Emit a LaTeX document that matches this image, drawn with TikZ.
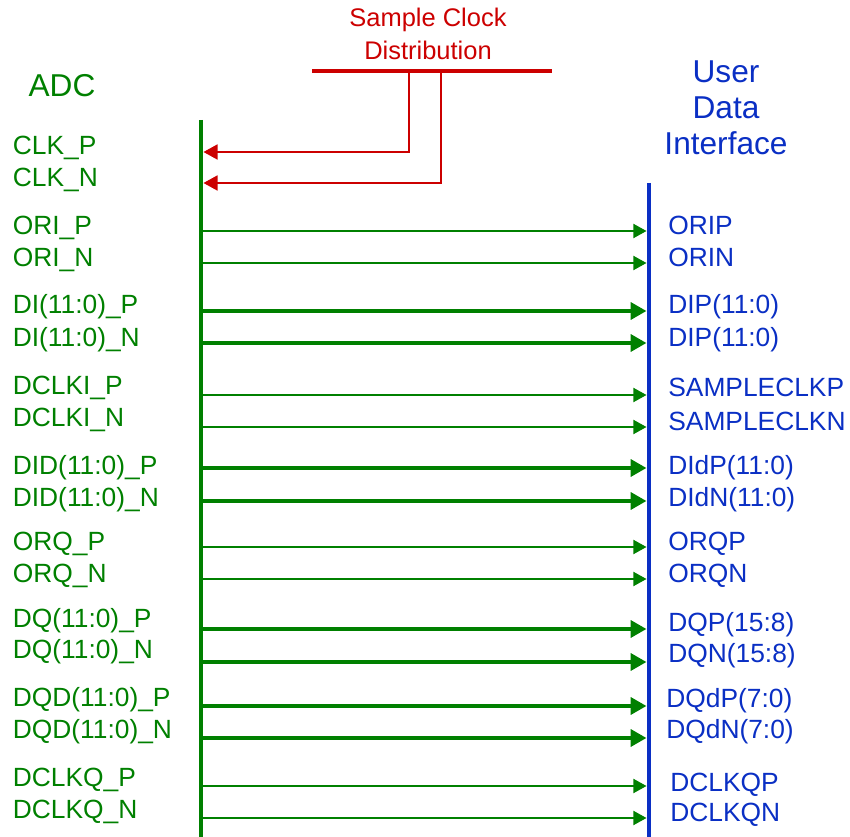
\documentclass[tikz,border=0pt]{standalone}
\usepackage{fontspec}
\setmainfont{Liberation Sans}
\usetikzlibrary{arrows.meta,positioning}
\definecolor{adcgreen}{HTML}{008000}
\definecolor{udiblue}{HTML}{0A2FC4}
\definecolor{clkred}{HTML}{CC0000}

\begin{document}
\begin{tikzpicture}[x=0.02cm, y=-0.02cm,
    title/.style={font=\fontsize{18}{21.6}\selectfont, align=center},
    sig/.style={font=\fontsize{15}{18}\selectfont, anchor=base west, inner sep=0pt},
    adcsig/.style={sig, adcgreen},
    udisig/.style={sig, udiblue},
    bus/.style={line width=2.8pt},
    thinlink/.style={adcgreen, line width=1.1pt, -{Triangle[length=7.5pt, width=8pt]}, shorten >=1.4pt},
    thicklink/.style={adcgreen, line width=2.8pt, -{Triangle[length=9pt, width=9.5pt]}, shorten >=1.4pt},
    clklink/.style={clkred, line width=1.1pt, -{Triangle[length=8pt, width=8.5pt]}, shorten >=1.4pt}
]
    \useasboundingbox (0,0) rectangle (850,837);

    % Titles
    \node[title, adcgreen] (adc) at (62,86) {ADC};
    \node[title, udiblue] (udi) at (726,108) {User\\[-1pt]Data\\[-1pt]Interface};
    \node[title, clkred, font=\fontsize{14.5}{18.5}\selectfont] (scd) at (428,34) {Sample Clock\\Distribution};

    % Buses
    \coordinate (adctop) at (201,120);
    \coordinate (adcbot) at (201,837);
    \coordinate (uditop) at (649,183);
    \coordinate (udibot) at (649,837);
    \coordinate (clkl) at (312,71);
    \coordinate (clkr) at (552,71);
    \draw[bus, adcgreen] (adctop) -- (adcbot);
    \draw[bus, udiblue] (uditop) -- (udibot);
    \draw[clkred, line width=2.3pt] (clkl) -- (clkr);

    % Sample clock feeds
    \coordinate (clkp) at (409,71);
    \coordinate (clkn) at (441,71);
    \coordinate (ckP) at (201,152);
    \coordinate (ckN) at (201,183);
    \draw[clklink] (clkp) |- (ckP);
    \draw[clklink] (clkn) |- (ckN);

    % ADC pins
    \node[adcsig] (clkP) at (12.5,155) {CLK\_P};
    \node[adcsig] (clkN) at (12.5,187) {CLK\_N};
    \node[adcsig] (oriP) at (12.5,235) {ORI\_P};
    \node[adcsig] (oriN) at (12.5,267) {ORI\_N};
    \node[adcsig] (diP) at (12.5,314) {DI(11:0)\_P};
    \node[adcsig] (diN) at (12.5,347) {DI(11:0)\_N};
    \node[adcsig] (dclkiP) at (12.5,395) {DCLKI\_P};
    \node[adcsig] (dclkiN) at (12.5,427) {DCLKI\_N};
    \node[adcsig] (didP) at (12.5,475) {DID(11:0)\_P};
    \node[adcsig] (didN) at (12.5,507) {DID(11:0)\_N};
    \node[adcsig] (orqP) at (12.5,551) {ORQ\_P};
    \node[adcsig] (orqN) at (12.5,583) {ORQ\_N};
    \node[adcsig] (dqP) at (12.5,628) {DQ(11:0)\_P};
    \node[adcsig] (dqN) at (12.5,659) {DQ(11:0)\_N};
    \node[adcsig] (dqdP) at (12.5,707) {DQD(11:0)\_P};
    \node[adcsig] (dqdN) at (12.5,739) {DQD(11:0)\_N};
    \node[adcsig] (dclkqP) at (12.5,787) {DCLKQ\_P};
    \node[adcsig] (dclkqN) at (12.5,819) {DCLKQ\_N};

    % User data interface pins
    \node[udisig] (orip) at (668,235) {ORIP};
    \node[udisig] (orin) at (668,267) {ORIN};
    \node[udisig] (dip) at (668,314) {DIP(11:0)};
    \node[udisig] (din) at (668,347) {DIP(11:0)};
    \node[udisig] (sclkp) at (668,397) {SAMPLECLKP};
    \node[udisig] (sclkn) at (668,431) {SAMPLECLKN};
    \node[udisig] (didp) at (668,475) {DIdP(11:0)};
    \node[udisig] (didn) at (668,507) {DIdN(11:0)};
    \node[udisig] (orqp) at (668,551) {ORQP};
    \node[udisig] (orqn) at (668,583) {ORQN};
    \node[udisig] (dqp) at (668,632) {DQP(15:8)};
    \node[udisig] (dqn) at (668,663) {DQN(15:8)};
    \node[udisig] (dqdp) at (666,708) {DQdP(7:0)};
    \node[udisig] (dqdn) at (666,739) {DQdN(7:0)};
    \node[udisig] (dclkqp) at (670,792) {DCLKQP};
    \node[udisig] (dclkqn) at (670,822) {DCLKQN};

    % Link start points on the ADC bus
    \coordinate (ori1) at (201,231);
    \coordinate (ori2) at (201,263);
    \coordinate (di1) at (201,311);
    \coordinate (di2) at (201,343);
    \coordinate (dclki1) at (201,395);
    \coordinate (dclki2) at (201,427);
    \coordinate (did1) at (201,468);
    \coordinate (did2) at (201,501);
    \coordinate (orq1) at (201,547);
    \coordinate (orq2) at (201,579);
    \coordinate (dq1) at (201,629);
    \coordinate (dq2) at (201,662);
    \coordinate (dqd1) at (201,706);
    \coordinate (dqd2) at (201,738);
    \coordinate (dclkq1) at (201,786);
    \coordinate (dclkq2) at (201,818);

    % Links
    \draw[thinlink] (ori1) -- (ori1 -| uditop);
    \draw[thinlink] (ori2) -- (ori2 -| uditop);
    \draw[thicklink] (di1) -- (di1 -| uditop);
    \draw[thicklink] (di2) -- (di2 -| uditop);
    \draw[thinlink] (dclki1) -- (dclki1 -| uditop);
    \draw[thinlink] (dclki2) -- (dclki2 -| uditop);
    \draw[thicklink] (did1) -- (did1 -| uditop);
    \draw[thicklink] (did2) -- (did2 -| uditop);
    \draw[thinlink] (orq1) -- (orq1 -| uditop);
    \draw[thinlink] (orq2) -- (orq2 -| uditop);
    \draw[thicklink] (dq1) -- (dq1 -| uditop);
    \draw[thicklink] (dq2) -- (dq2 -| uditop);
    \draw[thicklink] (dqd1) -- (dqd1 -| uditop);
    \draw[thicklink] (dqd2) -- (dqd2 -| uditop);
    \draw[thinlink] (dclkq1) -- (dclkq1 -| uditop);
    \draw[thinlink] (dclkq2) -- (dclkq2 -| uditop);

\end{tikzpicture}
\end{document}
